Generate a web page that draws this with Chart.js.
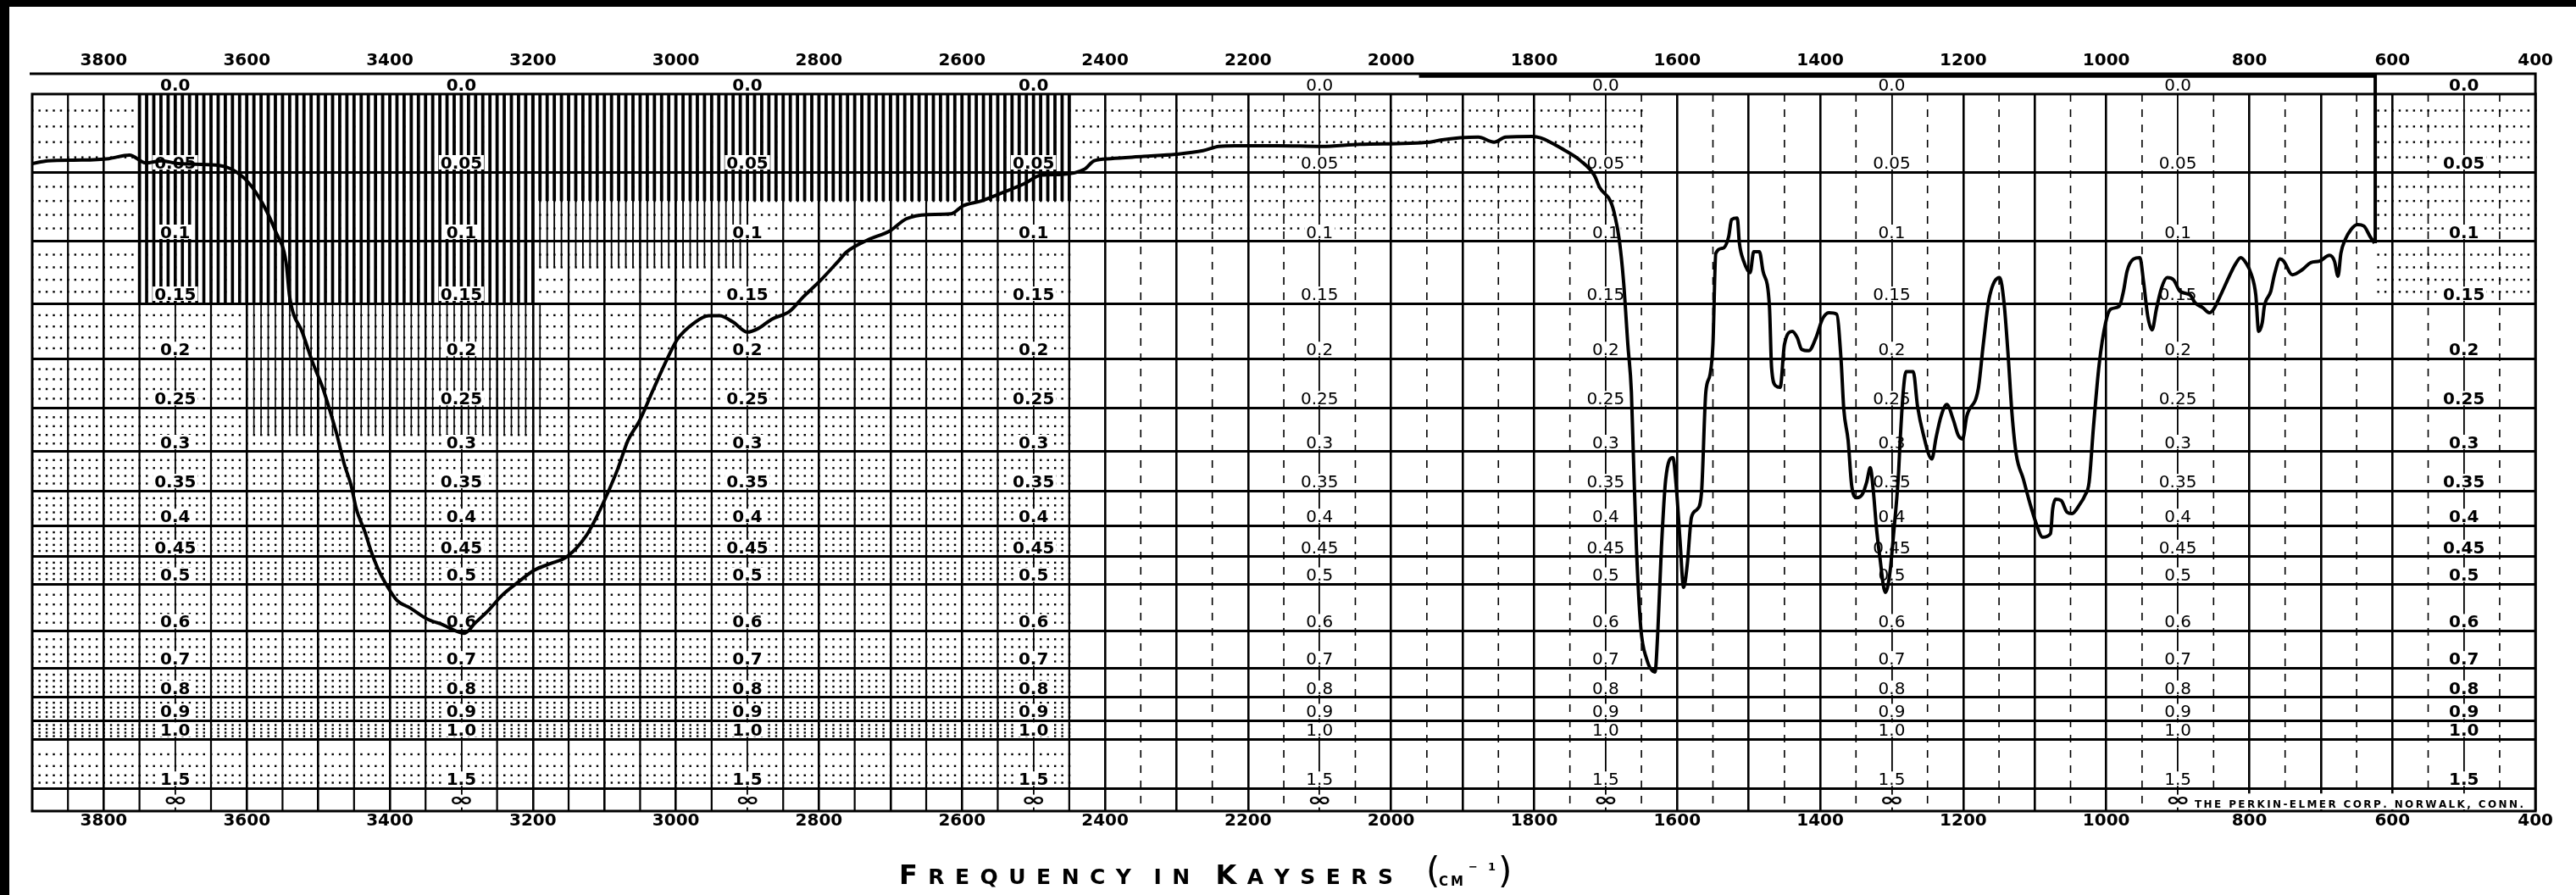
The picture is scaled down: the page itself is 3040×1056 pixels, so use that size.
<!DOCTYPE html>
<html>
<head>
<meta charset="utf-8">
<script src="https://cdn.jsdelivr.net/npm/chart.js@4.4.1/dist/chart.umd.min.js"></script>
<style>
  html, body { margin: 0; padding: 0; background: #fff; }
  canvas { display: block; }
</style>
</head>
<body>
<canvas id="ir" width="3040" height="1056"></canvas>
<script>
// trace: wavenumber (cm-1) and transmittance (%)
const wavenumber = [
  3900, 3878, 3831, 3793, 3764, 3741, 3719, 3696, 3643, 3621, 3598, 3576, 3560, 3545, 3540,
  3522, 3508, 3494, 3483, 3474, 3464, 3454, 3447, 3435, 3425, 3417, 3405, 3390, 3371, 3348,
  3326, 3296, 3281, 3262, 3243, 3221, 3198, 3176, 3152, 3126, 3111, 3096, 3081, 3067, 3051,
  3032, 3012, 2998, 2973, 2954, 2939, 2920, 2900, 2885, 2866, 2841, 2822, 2797, 2772, 2761,
  2731, 2701, 2678, 2648, 2615, 2599, 2573, 2542, 2513, 2489, 2460, 2429, 2415, 2392, 2346,
  2301, 2263, 2241, 2218, 2158, 2097, 2044, 1946, 1931, 1878, 1856, 1840, 1803, 1791, 1758,
  1735, 1716, 1708, 1693, 1687, 1681, 1675, 1669, 1664, 1661, 1657, 1651, 1643, 1631, 1627,
  1622, 1616, 1606, 1601, 1596, 1591, 1586, 1580, 1572, 1566, 1560, 1554, 1550, 1546, 1536,
  1528, 1524, 1516, 1513, 1507, 1498, 1493, 1485, 1480, 1471, 1468, 1462, 1456, 1450, 1439,
  1432, 1426, 1416, 1406, 1397, 1388, 1377, 1371, 1367, 1361, 1356, 1349, 1341, 1335, 1330,
  1326, 1321, 1317, 1309, 1303, 1297, 1291, 1288, 1284, 1280, 1270, 1264, 1256, 1244, 1238,
  1231, 1223, 1214, 1207, 1201, 1195, 1179, 1172, 1164, 1149, 1143, 1137, 1132, 1126, 1116,
  1107, 1098, 1089, 1078, 1075, 1071, 1063, 1055, 1048, 1037, 1030, 1024, 1018, 1010, 1001,
  994, 982, 976, 971, 962, 953, 948, 942, 936, 930, 923, 915, 906, 897, 883,
  876, 865, 856, 850, 840, 829, 820, 812, 805, 797, 791, 787, 782, 779, 770,
  765, 757, 752, 740, 726, 714, 702, 688, 681, 676, 672, 666, 658, 649, 640,
  631, 625
];
const transmittance = [
  90.3, 90.7, 90.8, 91.0, 91.5, 90.4, 90.7, 90.3, 90.1, 89.5, 87.7, 84.4, 80.9, 76.5, 71.7,
  66.7, 62.6, 59.1, 55.6, 52.5, 48.5, 45.4, 42.2, 39.0, 35.9, 33.9, 31.6, 29.4, 28.3, 26.8,
  26.0, 24.8, 26.2, 28.0, 30.1, 31.9, 33.6, 34.5, 35.5, 38.3, 41.0, 44.2, 47.8, 51.7, 54.4,
  58.7, 63.1, 65.8, 68.2, 69.1, 69.1, 68.2, 66.8, 67.3, 68.6, 69.7, 71.7, 74.1, 76.8, 78.0,
  79.7, 80.9, 82.6, 83.2, 83.3, 84.4, 85.1, 86.3, 87.5, 88.7, 88.8, 89.5, 90.7, 91.0, 91.3,
  91.6, 92.1, 92.7, 92.8, 92.8, 92.7, 93.0, 93.3, 93.6, 94.0, 93.3, 94.0, 94.1, 93.9, 92.2,
  90.7, 88.7, 86.9, 85.0, 83.0, 79.7, 73.9, 65.1, 58.4, 48.8, 36.8, 25.7, 21.3, 19.4, 25.2,
  36.8, 46.3, 49.3, 44.9, 37.7, 31.2, 34.3, 41.0, 42.1, 44.4, 58.4, 60.9, 65.1, 77.8, 78.5,
  80.1, 82.5, 82.7, 79.2, 76.7, 75.1, 78.0, 78.0, 75.3, 70.4, 61.8, 59.3, 59.1, 65.1, 66.9,
  66.0, 64.4, 64.2, 66.0, 68.6, 69.5, 69.3, 63.2, 56.0, 51.7, 45.4, 43.7, 44.2, 45.9, 47.9,
  44.9, 39.1, 35.7, 30.5, 32.9, 39.1, 46.3, 52.1, 58.4, 61.3, 61.3, 56.5, 52.6, 49.1, 52.1,
  55.1, 56.7, 54.6, 52.4, 51.9, 55.1, 58.9, 65.1, 71.4, 74.4, 70.9, 63.2, 55.6, 49.8, 46.3,
  43.0, 40.1, 38.2, 38.7, 42.1, 43.5, 43.3, 41.7, 41.5, 42.8, 44.0, 45.9, 53.5, 62.3, 68.1,
  70.0, 70.4, 72.5, 75.3, 77.0, 77.2, 73.9, 69.0, 67.1, 70.0, 72.9, 74.4, 74.1, 72.5, 72.0,
  70.9, 70.2, 69.5, 70.0, 72.0, 74.4, 76.2, 77.2, 76.5, 74.8, 72.0, 66.9, 68.1, 70.4, 72.5,
  74.8, 77.0, 76.7, 74.8, 75.5, 76.5, 76.7, 77.5, 76.7, 74.6, 77.8, 79.7, 81.1, 81.8, 81.6,
  80.1, 79.2
];
// pen lifted back to the start after the run
const penWavenumber = [624, 624, 1961];
const penTransmittance = [79.2, 102.5, 102.5];

// chart paper: frequency ticks and absorbance rulings
const freqLabels = [3800, 3600, 3400, 3200, 3000, 2800, 2600, 2400, 2200, 2000, 1800, 1600, 1400, 1200, 1000, 800, 600, 400];
const freqLines = [3800, 3700, 3600, 3500, 3400, 3300, 3200, 3100, 3000, 2900, 2800, 2700, 2600, 2500, 2400, 2300,
  2200, 2100, 2000, 1900, 1800, 1700, 1600, 1500, 1400, 1300, 1200, 1100, 1000, 900, 800, 700, 600, 500, 400];
const absorbanceLines = [0.05, 0.1, 0.15, 0.2, 0.25, 0.3, 0.35, 0.4, 0.45, 0.5, 0.6, 0.7, 0.8, 0.9, 1.0, 1.5];
const absorbanceLabels = ['0.05', '0.1', '0.15', '0.2', '0.25', '0.3', '0.35', '0.4', '0.45', '0.5', '0.6', '0.7', '0.8', '0.9', '1.0', '1.5'];
const labelColumns = [3700, 3300, 2900, 2500, 2100, 1700, 1300, 900, 500];
const boldColumns = [3700, 3300, 2900, 2500, 500];

const toT = a => 100 * Math.pow(10, -a);
const font = (w, s) => `${w} ${s}px "DejaVu Sans"`;

function spacedText(c, items, x0, x1, y) {
  let total = 0, extra = 0;
  items.forEach(it => { c.font = it.f; it.w = c.measureText(it.ch).width; total += it.w; extra += it.gap || 0; });
  const gap = (x1 - x0 - total - extra) / (items.length - 1);
  let x = x0;
  items.forEach(it => {
    x += it.gap || 0;
    c.font = it.f;
    c.fillText(it.ch, x, y);
    x += it.w + gap;
  });
}

const paperPlugin = {
  id: 'paper',
  beforeDraw(chart) {
    const c = chart.ctx;
    c.save();
    c.fillStyle = '#fff';
    c.fillRect(0, 0, chart.width, chart.height);
    c.fillStyle = '#000';
    c.fillRect(0, 0, chart.width, 8);
    c.fillRect(0, 0, 11, chart.height);
    c.restore();
  },
  beforeDatasetsDraw(chart) {
    const c = chart.ctx, a = chart.chartArea;
    const sx = chart.scales.x, sy = chart.scales.y;
    const px = v => sx.getPixelForValue(v);
    const py = A => sy.getPixelForValue(toT(A));
    c.save();

    // fine hatching printed on the upper left of the paper
    c.strokeStyle = '#000';
    [[3750, 2450, 0, 0.07, 3.8], [3750, 3200, 0.07, 0.15, 3.6], [3200, 2900, 0.07, 0.12, 1.8],
     [3590, 3190, 0.15, 0.28, 1.6]].forEach(r => {
      c.lineWidth = r[4];
      c.beginPath();
      for (let n = r[0]; n >= r[1]; n -= 10) {
        c.moveTo(px(n), py(r[2]));
        c.lineTo(px(n), py(r[3]));
      }
      c.stroke();
    });

    // dotted minor rulings
    const minor = [];
    for (let k = 1; k < 50; k++) if (k % 5) minor.push(k / 100);
    for (let k = 26; k < 50; k++) if (k % 5) minor.push(k / 50);
    [1.1, 1.2, 1.3, 1.4].forEach(v => minor.push(v));
    c.fillStyle = '#000';
    [[3900, 2450, 0, 1.0], [2450, 1650, 0, 0.1], [620, 400, 0, 0.15], [3900, 2450, 1.0, 1.5]].forEach(r => {
      minor.forEach(A => {
        if (A <= r[2] || A >= r[3]) return;
        const y = py(A);
        for (let n = r[0]; n >= r[1]; n -= 10) c.fillRect(px(n) - 1, y - 1, 2.4, 2.4);
      });
    });

    // half-hundred lines, dashed on the right half
    for (let n = 3850; n > 400; n -= 100) {
      c.beginPath();
      if (n > 2400) { c.setLineDash([]); c.lineWidth = 2.2; }
      else { c.setLineDash([9, 9]); c.lineWidth = 1.6; }
      c.moveTo(px(n), a.top);
      c.lineTo(px(n), a.bottom);
      c.stroke();
    }
    c.setLineDash([]);

    // frame and upper rule
    c.lineWidth = 3;
    c.strokeRect(a.left, a.top, a.right - a.left, a.bottom - a.top);
    c.beginPath();
    c.moveTo(35, 87);
    c.lineTo(a.right, 87);
    c.lineTo(a.right, a.top);
    c.stroke();

    // absorbance labels in their columns
    c.textAlign = 'center';
    c.textBaseline = 'alphabetic';
    labelColumns.forEach(col => {
      const x = px(col);
      c.font = font(boldColumns.includes(col) ? 'bold' : 'normal', 20);
      const put = (txt, base) => {
        const w = c.measureText(txt).width;
        c.fillStyle = '#fff';
        c.fillRect(x - w / 2 - 2, base - 16, w + 4, 17);
        c.fillStyle = '#000';
        c.fillText(txt, x, base);
      };
      put('0.0', a.top - 4);
      absorbanceLines.forEach((A, i) => put(absorbanceLabels[i], py(A) - 4));
      const yInf = (py(1.5) + a.bottom) / 2 + 2;
      c.fillStyle = '#fff';
      c.fillRect(x - 18, yInf - 8, 36, 15);
      c.fillStyle = '#000';
      c.save();
      c.translate(x, yInf);
      c.scale(1.6, 1);
      c.font = font('bold', 22);
      c.textBaseline = 'middle';
      c.fillText('\u221E', 0, 0);
      c.restore();
    });

    // maker's imprint
    c.fillStyle = '#fff';
    c.fillRect(2584, py(1.5) + 6, 400, a.bottom - py(1.5) - 8);
    c.fillStyle = '#000';
    c.textAlign = 'left';
    const imprint = 'THE PERKIN-ELMER CORP. NORWALK, CONN.'.split('').map(ch => ({ ch, f: font('bold', 12) }));
    spacedText(c, imprint, 2590, 2978, a.bottom - 4);
    c.restore();
  },
  afterDraw(chart) {
    const c = chart.ctx;
    c.save();
    c.fillStyle = '#000';
    c.textAlign = 'left';
    c.textBaseline = 'alphabetic';
    const big = font('bold', 32), small = font('bold', 25);
    const items = [];
    'FREQUENCY'.split('').forEach((ch, i) => items.push({ ch, f: i === 0 ? big : small }));
    'IN'.split('').forEach((ch, i) => items.push({ ch, f: small, gap: i === 0 ? 14 : 0 }));
    'KAYSERS'.split('').forEach((ch, i) => items.push({ ch, f: i === 0 ? big : small, gap: i === 0 ? 18 : 0 }));
    spacedText(c, items, 1061, 1644, 1043);
    c.font = font('normal', 42);
    c.fillText('(', 1683, 1042);
    c.fillText(')', 1768, 1042);
    c.font = font('bold', 15);
    c.fillText('C', 1698, 1045);
    c.fillText('M', 1712, 1045);
    c.font = font('bold', 13);
    c.fillText('\u2212', 1733, 1027);
    c.fillText('1', 1756, 1027);
    c.restore();
  }
};

const tickFont = { family: 'DejaVu Sans', weight: 'bold', size: 20 };

new Chart(document.getElementById('ir'), {
  type: 'line',
  data: {
    datasets: [
      {
        label: 'spectrum',
        data: wavenumber.map((v, i) => ({ x: v, y: transmittance[i] })),
        borderColor: '#000',
        borderWidth: 4,
        pointRadius: 0,
        cubicInterpolationMode: 'monotone',
        fill: false
      },
      {
        label: 'pen return',
        data: penWavenumber.map((v, i) => ({ x: v, y: penTransmittance[i] })),
        borderColor: '#000',
        borderWidth: 4,
        pointRadius: 0,
        tension: 0,
        clip: false,
        fill: false
      }
    ]
  },
  options: {
    responsive: false,
    animation: false,
    devicePixelRatio: 1,
    layout: { padding: { left: 38, right: 45, top: 51, bottom: 59 } },
    plugins: { legend: { display: false }, tooltip: { enabled: false }, title: { display: false } },
    scales: {
      x: {
        type: 'linear', position: 'bottom', min: 400, max: 3900, reverse: true,
        afterBuildTicks: s => { s.ticks = freqLines.map(v => ({ value: v })); },
        afterFit: s => { s.height = 40; },
        ticks: {
          autoSkip: false, maxRotation: 0, padding: 0, color: '#000', font: tickFont,
          callback: v => freqLabels.includes(v) ? String(v) : ''
        },
        grid: {
          color: '#000', drawTicks: false,
          lineWidth: ctx => labelColumns.includes(ctx.tick && ctx.tick.value) ? 1.8 : 2.6
        },
        border: { display: false }
      },
      xTop: {
        type: 'linear', position: 'top', min: 400, max: 3900, reverse: true,
        afterBuildTicks: s => { s.ticks = freqLabels.map(v => ({ value: v })); },
        afterFit: s => { s.height = 60; },
        ticks: {
          autoSkip: false, maxRotation: 0, padding: 27, color: '#000', font: tickFont,
          callback: v => String(v)
        },
        grid: { display: false, drawTicks: false },
        border: { display: false }
      },
      y: {
        type: 'linear', min: 0, max: 100,
        afterBuildTicks: s => { s.ticks = absorbanceLines.map(A => ({ value: toT(A) })); },
        afterFit: s => { s.width = 0; },
        ticks: { display: false },
        grid: { color: '#000', lineWidth: 3, drawTicks: false },
        border: { display: false }
      }
    }
  },
  plugins: [paperPlugin]
});
</script>
</body>
</html>
